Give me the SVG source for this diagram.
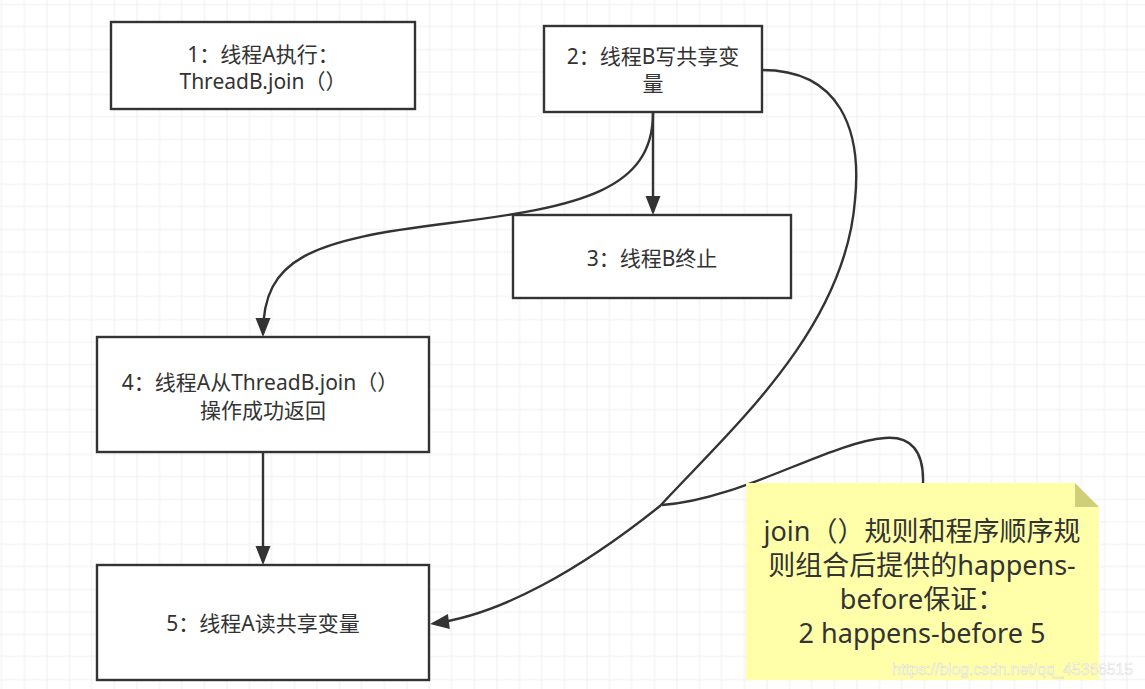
<svg xmlns="http://www.w3.org/2000/svg" width="1145" height="689" viewBox="0 0 1145 689">
<defs>
<pattern id="grid" patternUnits="userSpaceOnUse" x="46.5" y="71.5" width="90" height="90">
<rect width="90" height="90" fill="#ffffff"/>
<path d="M23,0V90M45,0V90M68,0V90M0,23H90M0,45H90M0,68H90" stroke="#f0f0f0" stroke-width="1" fill="none"/>
<path d="M0,0V90M0,0H90" stroke="#e3e3e3" stroke-width="1.2" fill="none"/>
</pattern>
<marker id="arr" markerUnits="userSpaceOnUse" markerWidth="20" markerHeight="16" refX="16" refY="8" orient="auto" overflow="visible">
<path d="M0,0.5 L19,8 L0,15.5 Z" fill="#333333"/>
</marker>
</defs>
<style>
.box{fill:#ffffff;stroke:#333333;stroke-width:2.4}
.t{font-family:"Noto Sans","Noto Sans CJK SC",sans-serif;font-size:21px;fill:#333333;text-anchor:middle}
.nt{font-family:"Noto Sans","Noto Sans CJK SC",sans-serif;font-size:27px;fill:#333333;text-anchor:middle}
.edge{fill:none;stroke:#333333;stroke-width:2.4}
</style>
<rect width="1145" height="689" fill="url(#grid)"/>

<g id="connectors">
<path class="edge" d="M653,113 V212" marker-end="url(#arr)"/>
<path class="edge" d="M653,113 C653,190 580,207 450,223 C310,240 263,258 263,334" marker-end="url(#arr)"/>
<path class="edge" d="M263,452 V562" marker-end="url(#arr)"/>
<path class="edge" d="M762,70 C840,70 862,130 855,200 C845,330 730,430 660,506 C580,570 500,615 433,623.5" marker-end="url(#arr)"/>
<path class="edge" d="M923,483 C924,450 910,436 885,438 C830,442 740,500 662,505"/>
</g>

<g id="node1">
<rect class="box" x="111" y="22" width="304" height="87"/>
<text class="t" x="263" y="62">1：线程A执行：</text>
<text class="t" x="263" y="89">ThreadB.join（）</text>
</g>

<g id="node2">
<rect class="box" x="544" y="26" width="218" height="86"/>
<text class="t" x="653" y="64">2：线程B写共享变</text>
<text class="t" x="653" y="91">量</text>
</g>

<g id="node3">
<rect class="box" x="513" y="215" width="278" height="83"/>
<text class="t" x="652" y="266">3：线程B终止</text>
</g>

<g id="node4">
<rect class="box" x="97" y="337" width="332" height="115"/>
<text class="t" x="260" y="390">4：线程A从ThreadB.join（）</text>
<text class="t" x="263" y="418">操作成功返回</text>
</g>

<g id="node5">
<rect class="box" x="97" y="565" width="332" height="115"/>
<text class="t" x="263" y="631">5：线程A读共享变量</text>
</g>

<g id="note">
<path d="M746,483 H1075 L1099,507 V680 H746 Z" fill="#ffffa9"/>
<path d="M1075,483 L1099,507 H1075 Z" fill="#cfcf7a"/>
<text class="nt" x="922" y="541">join（）规则和程序顺序规</text>
<text class="nt" x="922" y="575">则组合后提供的happens-</text>
<text class="nt" x="922" y="609">before保证：</text>
<text class="nt" x="922" y="643">2 happens-before 5</text>
</g>

<text x="892" y="675" textLength="241" lengthAdjust="spacingAndGlyphs" font-family="Liberation Sans, Arial, sans-serif" font-size="17" fill="#ffffff" fill-opacity="0.85" stroke="#bbbbbb" stroke-opacity="0.5" stroke-width="0.6">https://blog.csdn.net/qq_45366515</text>
</svg>
